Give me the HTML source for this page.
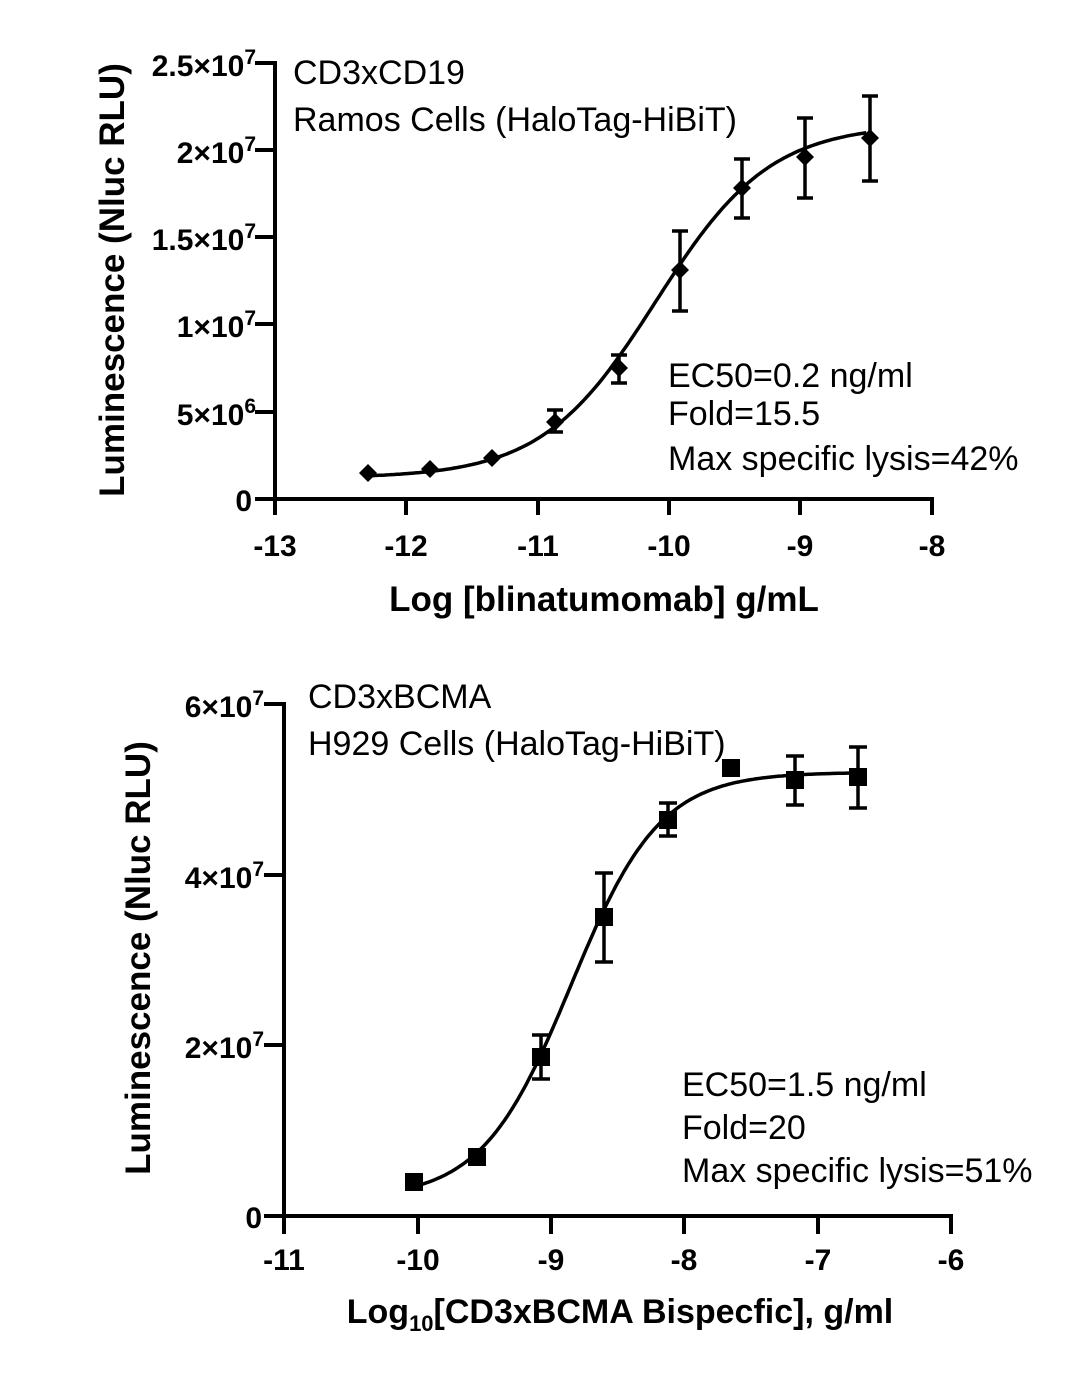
<!DOCTYPE html>
<html><head><meta charset="utf-8"><style>
html,body{margin:0;padding:0;background:#fff}
svg{display:block}
text{font-family:"Liberation Sans",Arial,sans-serif;fill:#000}
.b{font-weight:bold}
</style></head><body>
<svg id="s" width="1080" height="1383" viewBox="0 0 1080 1383" xmlns="http://www.w3.org/2000/svg">
<g stroke="#000" stroke-width="4" fill="none" stroke-linecap="square">
<path d="M275 63 V499 H932"/>
<path d="M257 63H275 M257 150H275 M257 237H275 M257 324H275 M257 412H275 M257 499H275"/>
<path d="M275 499V513 M406 499V513 M538 499V513 M669 499V513 M800 499V513 M932 499V513"/>
<path d="M284 704 V1216 H951"/>
<path d="M266 704H284 M266 875H284 M266 1045H284 M266 1216H284"/>
<path d="M284 1216V1232 M418 1216V1232 M551 1216V1232 M684 1216V1232 M818 1216V1232 M951 1216V1232"/>
</g>
<g font-size="30" text-anchor="end">
<text x="256" y="76" class="b">2.5×10<tspan font-size="21" dy="-12">7</tspan></text>
<text x="256" y="163" class="b">2×10<tspan font-size="21" dy="-12">7</tspan></text>
<text x="256" y="250" class="b">1.5×10<tspan font-size="21" dy="-12">7</tspan></text>
<text x="256" y="337" class="b">1×10<tspan font-size="21" dy="-12">7</tspan></text>
<text x="256" y="425" class="b">5×10<tspan font-size="21" dy="-12">6</tspan></text>
<text x="252" y="511" class="b">0</text>
<text x="264" y="717" class="b">6×10<tspan font-size="21" dy="-12">7</tspan></text>
<text x="264" y="888" class="b">4×10<tspan font-size="21" dy="-12">7</tspan></text>
<text x="264" y="1058" class="b">2×10<tspan font-size="21" dy="-12">7</tspan></text>
<text x="262" y="1228" class="b">0</text>
</g>
<g font-size="30" text-anchor="middle">
<text x="275" y="556" class="b">-13</text><text x="406" y="556" class="b">-12</text><text x="538" y="556" class="b">-11</text><text x="669" y="556" class="b">-10</text><text x="800" y="556" class="b">-9</text><text x="932" y="556" class="b">-8</text>
<text x="284" y="1270" class="b">-11</text><text x="418" y="1270" class="b">-10</text><text x="551" y="1270" class="b">-9</text><text x="684" y="1270" class="b">-8</text><text x="818" y="1270" class="b">-7</text><text x="951" y="1270" class="b">-6</text>
<text x="604" y="611" class="b" font-size="35">Log [blinatumomab] g/mL</text>
<text x="620" y="1323" class="b" font-size="34">Log<tspan font-size="22" dy="8">10</tspan><tspan dy="-8">[CD3xBCMA Bispecfic], g/ml</tspan></text>
<text transform="translate(124,280) rotate(-90)" class="b" font-size="35">Luminescence (Nluc RLU)</text>
<text transform="translate(150,958) rotate(-90)" class="b" font-size="35">Luminescence (Nluc RLU)</text>
</g>
<g font-size="34">
<text x="293" y="84">CD3xCD19</text>
<text x="293" y="131">Ramos Cells (HaloTag-HiBiT)</text>
<text x="668" y="387">EC50=0.2 ng/ml</text>
<text x="668" y="425">Fold=15.5</text>
<text x="668" y="470">Max specific lysis=42%</text>
<text x="308" y="708">CD3xBCMA</text>
<text x="308" y="755">H929 Cells (HaloTag-HiBiT)</text>
<text x="682" y="1096">EC50=1.5 ng/ml</text>
<text x="682" y="1139">Fold=20</text>
<text x="682" y="1182">Max specific lysis=51%</text>
</g>
<g id="data" stroke="#000" stroke-width="3.5" fill="none"></g>
</svg>
<script>
(function(){
var g=document.getElementById('data'),ns="http://www.w3.org/2000/svg";
function el(t,a){var e=document.createElementNS(ns,t);for(var k in a)e.setAttribute(k,a[k]);g.appendChild(e);return e;}
var d="";for(var i=0;i<=200;i++){var x=-12.3+i*(3.8/200);var v=1.2e6+2.03e7/(1+Math.pow(10,(-10.1-x)*1.0));var px=275+(x+13)*131.4,py=499-v*436/2.5e7;d+=(i?"L":"M")+px.toFixed(1)+" "+py.toFixed(1);}
el("path",{d:d});
var d2="";for(var i=0;i<=200;i++){var x=-10.03+i*(3.33/200);var v=2e6+5e7/(1+Math.pow(10,(-8.85-x)*1.3));var px=284+(x+11)*133.4,py=1216-v*512/6e7;d2+=(i?"L":"M")+px.toFixed(1)+" "+py.toFixed(1);}
el("path",{d:d2});
var tp=[[368,473],[430,469],[492,458],[555,422,410,432],[619,368,355,383],[680,270,231,311],[742,188,159,218],[805,157,118,198],[870,138,96,181]];
tp.forEach(function(p){if(p[2]){el("path",{d:"M"+p[0]+" "+p[2]+"V"+p[3]+"M"+(p[0]-8)+" "+p[2]+"H"+(p[0]+8)+"M"+(p[0]-8)+" "+p[3]+"H"+(p[0]+8)});}
el("path",{d:"M"+p[0]+" "+(p[1]-9)+"L"+(p[0]+9)+" "+p[1]+"L"+p[0]+" "+(p[1]+9)+"L"+(p[0]-9)+" "+p[1]+"Z",fill:"#000",stroke:"none"});});
var bt=[[414,1182],[477,1157],[541,1057,1035,1079],[604,917,873,962],[668,820,803,836],[731,768],[795,780,756,805],[858,777,747,808]];
bt.forEach(function(p){if(p[2]){el("path",{d:"M"+p[0]+" "+p[2]+"V"+p[3]+"M"+(p[0]-9)+" "+p[2]+"H"+(p[0]+9)+"M"+(p[0]-9)+" "+p[3]+"H"+(p[0]+9)});}
el("rect",{x:p[0]-9,y:p[1]-9,width:18,height:18,fill:"#000",stroke:"none"});});
})();
</script>
</body></html>
